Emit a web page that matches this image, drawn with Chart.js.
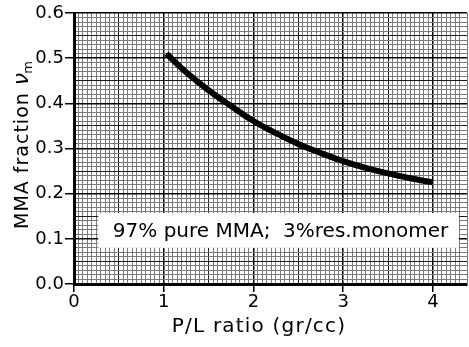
<!DOCTYPE html>
<html>
<head>
<meta charset="utf-8">
<script src="https://cdn.jsdelivr.net/npm/chart.js@4/dist/chart.umd.min.js"></script>
<style>
  html, body { margin: 0; padding: 0; background: #fff; }
  #wrap { width: 469px; height: 347px; }
</style>
</head>
<body>
<div id="wrap"><canvas id="mmaChart" width="469" height="347"></canvas></div>
<script>
// P/L ratio (gr/cc) vs MMA fraction
const plRatio = [1.03, 1.25, 1.5, 1.75, 2.0, 2.25, 2.5, 2.75, 3.0, 3.25, 3.5, 3.75, 4.0];
const mmaFraction = [0.51, 0.469, 0.429, 0.394, 0.361, 0.334, 0.31, 0.29, 0.272, 0.257, 0.245, 0.234, 0.225];
const xTickLabels = ['0', '1', '2', '3', '4'];
const yTickLabels = ['0.0', '0.1', '0.2', '0.3', '0.4', '0.5', '0.6'];
const xTitle = 'P/L ratio (gr/cc)';
const yTitle = 'MMA fraction ';
const yTitleSymbol = 'ν';
const yTitleSub = 'm';
const noteText = '97% pure MMA;  3%res.monomer';

const FONT = '"DejaVu Sans", sans-serif';
Chart.defaults.font.family = FONT;
Chart.defaults.color = '#000';

// graph paper: heavy at labelled ticks, darker at halves, fine elsewhere
function paperColor(units, major, medium) {
    if (units % major === 0) return '#000';
    if (units % medium === 0) return '#1a1a1a';
    return '#7a7a7a';
}

const notePlugin = {
    id: 'note',
    beforeDatasetsDraw(chart) {
        const { ctx, scales } = chart;
        const x1 = scales.x.getPixelForValue(0.27);
        const x2 = scales.x.getPixelForValue(4.29);
        const y1 = scales.y.getPixelForValue(0.157);
        const y2 = scales.y.getPixelForValue(0.08);
        ctx.save();
        ctx.fillStyle = '#fff';
        ctx.fillRect(x1, y1, x2 - x1, y2 - y1);
        ctx.fillStyle = '#000';
        ctx.font = '20px ' + FONT;
        ctx.textAlign = 'center';
        ctx.textBaseline = 'middle';
        ctx.fillText(noteText, (x1 + x2) / 2 + 2, (y1 + y2) / 2 + 1);
        ctx.restore();
    }
};

// axis titles drawn by hand so the tracking and the subscript match
const titlePlugin = {
    id: 'titles',
    afterDraw(chart) {
        const ctx = chart.ctx;
        ctx.save();
        ctx.fillStyle = '#000';
        ctx.letterSpacing = '1.2px';
        ctx.font = '20px ' + FONT;
        ctx.textAlign = 'center';
        ctx.textBaseline = 'alphabetic';
        ctx.fillText(xTitle, 259, 332);

        ctx.translate(28, 229);
        ctx.rotate(-Math.PI / 2);
        ctx.textAlign = 'left';
        ctx.letterSpacing = '1px';
        ctx.font = '19px ' + FONT;
        ctx.fillText(yTitle, 0, 0);
        let w = ctx.measureText(yTitle).width;
        ctx.letterSpacing = '0px';
        ctx.font = 'italic 22px ' + FONT;
        ctx.fillText(yTitleSymbol, w, 0);
        w += ctx.measureText(yTitleSymbol).width;
        ctx.font = '13px ' + FONT;
        ctx.fillText(yTitleSub, w - 1, 4);
        ctx.restore();
    }
};

const ctx = document.getElementById('mmaChart').getContext('2d');
const mmaChart = new Chart(ctx, {
    type: 'line',
    data: {
        datasets: [{
            label: 'MMA fraction',
            data: plRatio.map((x, i) => ({ x: x, y: mmaFraction[i] })),
            borderColor: '#000',
            borderWidth: 6,
            pointRadius: 0,
            fill: false,
            tension: 0.4
        }]
    },
    options: {
        responsive: false,
        animation: false,
        layout: { padding: { top: 13, right: 2, left: 0, bottom: 0 } },
        plugins: { legend: { display: false }, tooltip: { enabled: false } },
        scales: {
            x: {
                type: 'linear',
                min: 0,
                max: 4.38,
                afterFit(scale) { scale.height = 63; },
                border: { color: '#000', width: 3 },
                grid: {
                    color: c => paperColor(Math.round(c.tick.value * 20), 20, 10),
                    lineWidth: c => Math.round(c.tick.value * 20) % 20 === 0 ? 1.5 : 1,
                    tickLength: 8,
                    tickColor: c => Math.round(c.tick.value * 20) % 20 === 0 ? '#000' : 'rgba(0,0,0,0)'
                },
                ticks: {
                    stepSize: 0.05,
                    maxTicksLimit: 1000,
                    autoSkip: false,
                    maxRotation: 0,
                    padding: 0,
                    font: { size: 18 },
                    callback: v => {
                        const u = Math.round(v * 20);
                        return u % 20 === 0 ? xTickLabels[u / 20] : '';
                    }
                }
            },
            y: {
                type: 'linear',
                min: 0,
                max: 0.6,
                afterFit(scale) { scale.width = 74; },
                border: { color: '#000', width: 3 },
                grid: {
                    color: c => paperColor(Math.round(c.tick.value * 100), 10, 5),
                    lineWidth: c => Math.round(c.tick.value * 100) % 10 === 0 ? 1.5 : 1,
                    tickLength: 9,
                    tickColor: c => Math.round(c.tick.value * 100) % 10 === 0 ? '#000' : 'rgba(0,0,0,0)'
                },
                ticks: {
                    stepSize: 0.01,
                    maxTicksLimit: 1000,
                    autoSkip: false,
                    padding: 1,
                    font: { size: 18 },
                    callback: v => {
                        const u = Math.round(v * 100);
                        return u % 10 === 0 ? yTickLabels[u / 10] : '';
                    }
                }
            }
        }
    },
    plugins: [notePlugin, titlePlugin]
});
</script>
</body>
</html>
